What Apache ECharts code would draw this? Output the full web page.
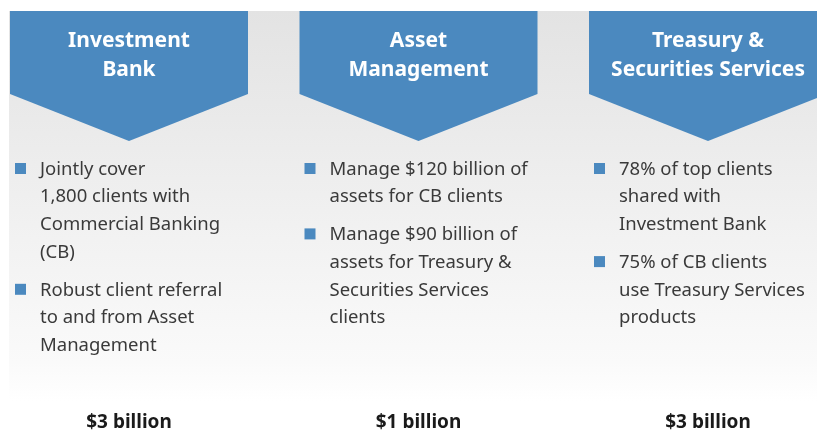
<!DOCTYPE html>
<html>
<head>
<meta charset="utf-8">
<script src="https://cdn.jsdelivr.net/npm/echarts@6/dist/echarts.min.js"></script>
<style>
  html, body { margin: 0; padding: 0; background: #ffffff; }
  #main { width: 817px; height: 433px; }
</style>
</head>
<body>
<div id="main"></div>
<script>
// business lines
const titles = ['Investment\nBank', 'Asset\nManagement', 'Treasury &\nSecurities Services'];
// bullet points, one list per business line (line breaks as printed)
const bulletsIB = ['Jointly cover\n1,800 clients with\nCommercial Banking\n(CB)', 'Robust client referral\nto and from Asset\nManagement'];
const bulletsAM = ['Manage $120 billion of\nassets for CB clients', 'Manage $90 billion of\nassets for Treasury &\nSecurities Services\nclients'];
const bulletsTSS = ['78% of top clients\nshared with\nInvestment Bank', '75% of CB clients\nuse Treasury Services\nproducts'];
const bullets = [bulletsIB, bulletsAM, bulletsTSS];
// revenue figure under each column
const revenue = ['$3 billion', '$1 billion', '$3 billion'];

const chart = echarts.init(document.getElementById('main'));

const blue = '#4b89bf';
const colCenters = [129, 418.5, 708];
const halfW = 119;
const topY = 11;
const lineH = 27.7;
const font = '"Noto Sans", sans-serif';

const elements = [];
// grey panel
elements.push({
  type: 'rect',
  shape: { x: 9, y: topY, width: 808, height: 390 },
  style: {
    fill: new echarts.graphic.LinearGradient(0, 0, 0, 1, [
      { offset: 0, color: '#e3e3e3' },
      { offset: 0.9, color: '#fafafa' },
      { offset: 1, color: '#ffffff' }
    ])
  },
  silent: true
});

titles.forEach(function (t, i) {
  const cx = colCenters[i];
  elements.push({
    type: 'polygon',
    shape: {
      points: [[cx - halfW, topY], [cx + halfW, topY], [cx + halfW, topY + 83],
               [cx, topY + 130], [cx - halfW, topY + 83]]
    },
    style: { fill: blue }
  });
  elements.push({
    type: 'text',
    x: cx, y: 55.5,
    style: {
      text: t, fill: '#ffffff', font: 'bold 21px ' + font,
      align: 'center', verticalAlign: 'middle', lineHeight: 29
    }
  });
  let y = 169;
  bullets[i].forEach(function (b) {
    const nLines = b.split('\n').length;
    elements.push({
      type: 'rect',
      shape: { x: cx - halfW + 5, y: y - 6, width: 11, height: 11 },
      style: { fill: blue }
    });
    elements.push({
      type: 'text',
      x: cx - halfW + 30, y: y - lineH / 2 + 0.5,
      style: {
        text: b, fill: '#3a3a3a', font: '18.5px ' + font,
        align: 'left', verticalAlign: 'top', lineHeight: lineH
      }
    });
    y += nLines * lineH + 10;
  });
  elements.push({
    type: 'text',
    x: cx, y: 423,
    style: {
      text: revenue[i], fill: '#1a1a1a', font: 'bold 19px ' + font,
      align: 'center', verticalAlign: 'middle'
    }
  });
});

chart.setOption({
  backgroundColor: '#ffffff',
  animation: false,
  graphic: { elements: elements }
});
</script>
</body>
</html>
